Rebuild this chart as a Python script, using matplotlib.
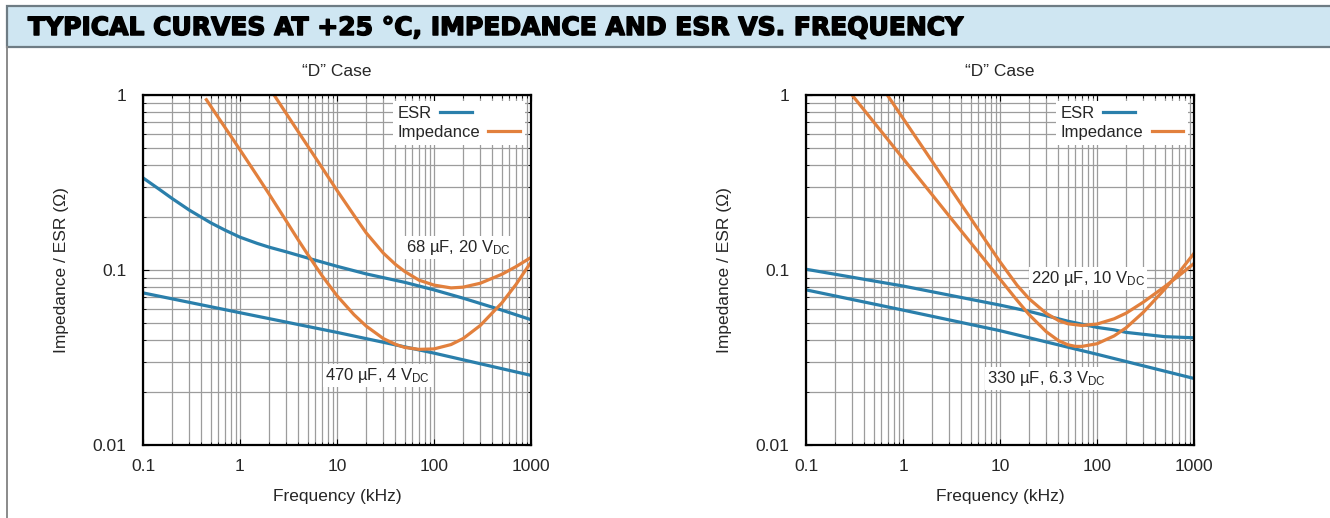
import matplotlib
matplotlib.use('Agg')
import matplotlib.pyplot as plt
import matplotlib.ticker as mticker
import matplotlib.patheffects as pe
from matplotlib.patches import Rectangle
from matplotlib.lines import Line2D

plt.rcParams['font.family'] = ['Liberation Sans', 'DejaVu Sans']
plt.rcParams['mathtext.fontset'] = 'custom'
plt.rcParams['mathtext.rm'] = 'Liberation Sans'
plt.rcParams['mathtext.it'] = 'Liberation Sans:italic'

title_text = 'TYPICAL CURVES AT +25 °C, IMPEDANCE AND ESR VS. FREQUENCY'
panel_title = '\u201cD\u201d Case'
x_ticks = [0.1, 1, 10, 100, 1000]
x_labels = ['0.1', '1', '10', '100', '1000']
y_ticks = [0.01, 0.1, 1]
y_labels = ['0.01', '0.1', '1']

# left chart, 68 uF 20 V and 470 uF 4 V (freq in kHz, ohms)
esr68_f = [0.1, 0.15, 0.2, 0.3, 0.5, 0.7, 1, 1.5, 2, 3, 5, 10, 20, 50, 100, 200, 500, 1000]
esr68_z = [0.336, 0.287, 0.256, 0.22, 0.186, 0.169, 0.154, 0.142, 0.135, 0.127, 0.117,
           0.105, 0.095, 0.085, 0.077, 0.069, 0.059, 0.052]
esr470_f = [0.1, 1, 10, 100, 1000]
esr470_z = [0.074, 0.057, 0.044, 0.0335, 0.025]
z68_f = [2.3, 3, 4, 5, 7, 10, 15, 20, 30, 40, 50, 70, 100, 150, 200, 300, 500, 700, 1000]
z68_z = [0.98, 0.783, 0.615, 0.51, 0.385, 0.285, 0.205, 0.163, 0.125, 0.1077, 0.098,
         0.0875, 0.082, 0.079, 0.0798, 0.084, 0.0945, 0.1045, 0.118]
z470_f = [0.45, 0.6, 0.8, 1, 1.5, 2, 3, 4, 5, 7, 10, 15, 20, 30, 40, 50, 70, 100,
          150, 200, 300, 500, 700, 1000]
z470_z = [0.94, 0.741, 0.585, 0.486, 0.346, 0.271, 0.1905, 0.148, 0.1225, 0.0929,
          0.0713, 0.0555, 0.0478, 0.0406, 0.0376, 0.0361, 0.0352, 0.0354, 0.0375,
          0.0406, 0.0482, 0.0648, 0.0826, 0.111]

# right chart, 220 uF 10 V and 330 uF 6.3 V
esr220_f = [0.1, 1, 10, 20, 50, 100, 150, 200, 500, 1000]
esr220_z = [0.101, 0.081, 0.063, 0.058, 0.051, 0.047, 0.0455, 0.044, 0.0416, 0.041]
esr330_f = [0.1, 1, 10, 100, 1000]
esr330_z = [0.077, 0.059, 0.045, 0.033, 0.024]
z220_f = [0.706, 1, 1.5, 2, 3, 5, 7, 10, 15, 20, 30, 40, 50, 70, 100, 150, 200, 300,
          500, 700, 1000]
z220_z = [0.98, 0.736, 0.528, 0.417, 0.299, 0.197, 0.149, 0.1114, 0.0818, 0.0684,
          0.0565, 0.0515, 0.0493, 0.0482, 0.0491, 0.0526, 0.0567, 0.0655, 0.0804,
          0.0929, 0.109]
z330_f = [0.307, 0.5, 0.7, 1, 1.5, 2, 3, 5, 7, 10, 15, 20, 30, 40, 50, 60, 70, 100,
          150, 200, 300, 500, 700, 1000]
z330_z = [0.98, 0.70, 0.555, 0.434, 0.328, 0.269, 0.203, 0.143, 0.1135, 0.0887, 0.0671,
          0.0555, 0.0444, 0.0395, 0.0374, 0.0366, 0.0366, 0.0379, 0.042, 0.0468, 0.0573,
          0.0778, 0.0968, 0.1245]

blue = '#2a7fab'
orange = '#e2803d'
txt = '#262626'

fig = plt.figure(figsize=(13.3, 5.18), dpi=100)

# header bar
fig.patches.append(Rectangle((7 / 1330, 1 - 47 / 518), 1.0, 41 / 518,
                             transform=fig.transFigure, facecolor='#cfe6f2',
                             edgecolor='#6e7c84', lw=1.6, zorder=0))
fig.lines.append(Line2D([7 / 1330, 7 / 1330], [0, 1 - 47 / 518],
                        transform=fig.transFigure, color='#8a8a8a', lw=1.4))
fig.text(28 / 1330, 1 - 28 / 518, title_text, fontsize=18, fontweight='heavy',
         family='DejaVu Sans', color='black', va='center', ha='left',
         path_effects=[pe.withStroke(linewidth=1.1, foreground='black')])


def draw_panel(rect, esr_a, esr_b, z_a, z_b, lab_a, lab_b):
    ax = fig.add_axes(rect)
    ax.set_xscale('log')
    ax.set_yscale('log')
    ax.set_xlim(0.1, 1000)
    ax.set_ylim(0.01, 1)

    ax.plot(esr_a[0], esr_a[1], color=blue, lw=2.3, label='ESR', zorder=3)
    ax.plot(esr_b[0], esr_b[1], color=blue, lw=2.3, zorder=3)
    ax.plot(z_a[0], z_a[1], color=orange, lw=2.3, label='Impedance', zorder=3)
    ax.plot(z_b[0], z_b[1], color=orange, lw=2.3, zorder=3)

    ax.xaxis.set_major_locator(mticker.FixedLocator(x_ticks))
    ax.xaxis.set_major_formatter(mticker.FixedFormatter(x_labels))
    ax.yaxis.set_major_locator(mticker.FixedLocator(y_ticks))
    ax.yaxis.set_major_formatter(mticker.FixedFormatter(y_labels))
    ax.xaxis.set_minor_locator(mticker.LogLocator(base=10, subs=[2, 3, 4, 5, 6, 7, 8, 9]))
    ax.yaxis.set_minor_locator(mticker.LogLocator(base=10, subs=[2, 3, 4, 5, 6, 7, 8, 9]))
    ax.xaxis.set_minor_formatter(mticker.NullFormatter())
    ax.yaxis.set_minor_formatter(mticker.NullFormatter())
    ax.grid(which='both', color='#9c9c9c', lw=0.9, zorder=1)
    ax.tick_params(which='both', direction='in', top=True, right=True, colors='black',
                   labelcolor=txt, labelsize=12.5)
    ax.tick_params(axis='x', which='major', length=4, pad=10)
    ax.tick_params(axis='y', which='major', length=4, pad=12)
    ax.tick_params(which='minor', length=2)
    for s in ax.spines.values():
        s.set_linewidth(1.6)
        s.set_color('black')
        s.set_zorder(4)

    ax.set_xlabel('Frequency (kHz)', fontsize=12.5, color=txt)
    ax.xaxis.set_label_coords(0.5, -0.126)
    ax.set_ylabel('Impedance / ESR (\u03a9)', fontsize=12.5, color=txt)
    ax.yaxis.set_label_coords(-0.19, 0.5)
    ax.text(0.5, 1.066, panel_title, transform=ax.transAxes, ha='center', va='center',
            fontsize=12.5, color=txt)

    leg = ax.legend(loc='upper right', markerfirst=False, fontsize=12, frameon=True,
                    fancybox=False, framealpha=1, handlelength=1.9, handletextpad=0.5,
                    borderpad=0.3, labelspacing=0.25, borderaxespad=0.35)
    leg.get_frame().set_edgecolor('none')
    leg.get_frame().set_facecolor('white')
    # text left aligned, line sample right after it
    for col in leg._legend_handle_box.get_children():
        col.align = 'left'
    for t in leg.get_texts():
        t.set_color(txt)
    leg.set_zorder(5)

    for (fx, zy, s) in (lab_a, lab_b):
        ax.text(fx, zy, s, ha='center', va='center', fontsize=12, color=txt, zorder=5,
                bbox=dict(facecolor='white', edgecolor='none', pad=1.5))
    return ax


draw_panel([143 / 1330, 73 / 518, 388 / 1330, 350 / 518],
           (esr68_f, esr68_z), (esr470_f, esr470_z),
           (z68_f, z68_z), (z470_f, z470_z),
           (177, 0.134, r'68 µF, 20 V$_{\rm DC}$'),
           (26, 0.025, r'470 µF, 4 V$_{\rm DC}$'))

draw_panel([806 / 1330, 73 / 518, 388 / 1330, 350 / 518],
           (esr220_f, esr220_z), (esr330_f, esr330_z),
           (z220_f, z220_z), (z330_f, z330_z),
           (80, 0.090, r'220 µF, 10 V$_{\rm DC}$'),
           (30, 0.0241, r'330 µF, 6.3 V$_{\rm DC}$'))

fig.savefig('out.png', dpi=100)
